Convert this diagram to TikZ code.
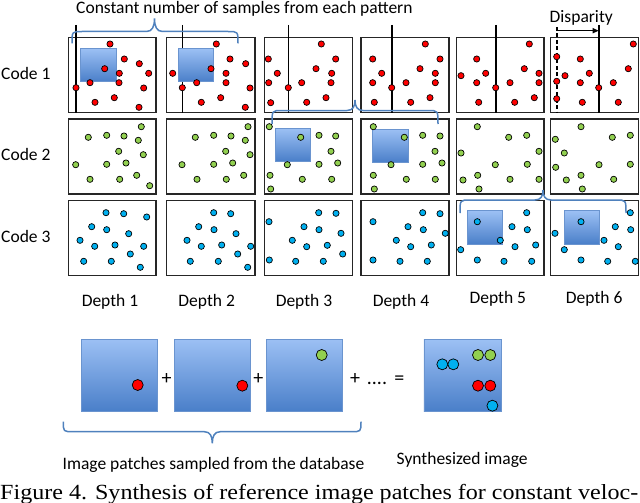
\documentclass[tikz,border=0pt]{standalone}
\usepackage{fontspec}
\usepackage{graphicx}
\setmainfont{Carlito}
\newfontfamily\capfont{Liberation Serif}
\usetikzlibrary{arrows.meta}
\definecolor{rdot}{HTML}{FF0000}
\definecolor{gdot}{HTML}{92D050}
\definecolor{cdot}{HTML}{00B0F0}
\definecolor{bracec}{HTML}{4F81BD}
\definecolor{ptop}{HTML}{9CC0F4}
\definecolor{pbot}{HTML}{4A7FC9}
\definecolor{pedge}{HTML}{6A94CF}
\newcommand\mybrace[6]{%
  \draw[bracestyle] (#1,#4) .. controls (#1,#5) and (#1,#5) .. ({#1+10},#5)
    -- ({#3-8},#5) .. controls ({#3-2},#5) and (#3,{#5+(#6-#5)*0.4}) .. (#3,#6)
    .. controls (#3,{#5+(#6-#5)*0.4}) and ({#3+2},#5) .. ({#3+8},#5)
    -- ({#2-10},#5) .. controls (#2,#5) and (#2,#5) .. (#2,#4);}
\begin{document}
\begin{tikzpicture}[x=1pt,y=-1pt,
  panel/.style={draw=black!85,line width=1.2pt},
  patch/.style={top color=ptop,bottom color=pbot,draw=pedge,line width=0.6pt},
  rd/.style={fill=rdot,draw=black,line width=0.7pt},
  gd/.style={fill=gdot,draw=black,line width=0.7pt},
  cd/.style={fill=cdot,draw=black,line width=0.7pt},
  lbl/.style={font=\fontsize{17.5}{20}\selectfont,inner sep=0pt},
  sym/.style={font=\fontsize{20}{24}\selectfont,inner sep=0pt,anchor=base},
  bracestyle/.style={draw=bracec,line width=1.5pt},
  vline/.style={draw=black,line width=1.6pt}]
\useasboundingbox (0,0) rectangle (640,503);
% panels
\foreach \xl/\xr in {68.3/156,166.7/255,264.3/352.3,361/449,456.3/544,550.7/638.3}{
  \draw[panel] (\xl,37.3) rectangle (\xr,112.7);
  \draw[panel] (\xl,119) rectangle (\xr,194);
  \draw[panel] (\xl,200.7) rectangle (\xr,275.7);
}
% vertical lines row 1
\foreach \x in {76,182.3,288.3,391.7,495.7,598.7}{
  \draw[vline] (\x,25) -- (\x,112.7);
}
\draw[vline,dash pattern=on 4pt off 2.5pt] (556.7,27) -- (556.7,112.7);
\coordinate (dA) at (556.7,30.7);
\coordinate (dB) at (598.7,30.7);
\draw[vline,line width=1.4pt,-{Triangle[length=6pt,width=5pt]}] (dA) -- (dB);
% patches in panels
\draw[patch] (80,48.3) rectangle (116,81.7);
\draw[patch] (178.3,48.3) rectangle (213.3,81.7);
\draw[patch] (275,128.3) rectangle (310,161);
\draw[patch] (372.7,129) rectangle (408.3,162.3);
\draw[patch] (467.7,210.7) rectangle (502.7,244);
\draw[patch] (564.3,210.7) rectangle (599,244);
% row 1 red dots
\foreach \x/\y in {110/44,124.3/59,139.3/63.7,104.7/68.7,119.3/73.3,148.7/73.3,90/82.7,119/82.7,76/87.7,143.7/88,114.3/97.7,95/102.3,139/107.3,
 216.3/44,230/59,245.7/63.7,211/68.7,226/73.3,172.7/73.3,196.7/82.7,226/82.7,182.3/87.7,250/88,220.7/97.7,201.3/102.3,245.3/107.3,
 321.3/44,268.3/59,335.7/59,316/68.7,277.3/73.3,331.7/73.3,268.7/82.7,301.7/82.7,331/82.7,288.3/87.7,326/97.7,270.7/102.7,306.7/102.3,
 425.3/44,372.7/59,440/59,420/68.7,381.7/73.3,435.3/73.3,372.7/82.7,406/82.7,435.3/82.7,391.7/87.7,430/97.7,374.3/102.3,410.7/102.3,
 529.3/44,476.7/59,524.3/68.7,461/75.7,485.7/73.3,539/73.3,476.7/82.7,510/82.7,539/82.7,495.7/87.7,534.3/97.7,478.7/102.3,514.7/102.3,
 633.3/44,556.7/56.7,580.3/59,628.3/68.7,565/75.7,589.3/73.3,556.7/81.3,580.3/82.7,613.3/82.7,598.7/87.7,556.7/98.7,582.3/102.3,618.3/102.3}
  \filldraw[rd] (\x,\y) circle[radius=3.1];
% row 2 green dots
\foreach \x/\y in {141.3/126.7,88.3/137.3,106.7/135.3,124/136,138.3/140.3,118.7/151.3,143.3/154.7,75.7/164.7,106.7/164.3,126/163,90/179.3,119.7/179.3,136.7/175.3,149.7/185.7,
 248/126.7,195.3/137.3,213.7/135.3,231/136,245.3/140.3,225.7/151.3,250/154.7,182/164.7,213.7/164.3,232.7/163,197/179.3,226.3/179.3,243.7/175.3,
 269.3/126.7,300.7/137.3,319/135.3,335.7/136,331/151.3,287.3/164.7,319/164.3,337.7/163,270/175.3,302.3/179.3,331.7/179.3,270.7/189,
 373.3/126.7,404.3/137.3,422.7/135.3,440/136,435/151.3,391/164.7,422.7/164.3,442/163,373.3/175.3,406.3/179.3,435.3/179.3,374.3/189,
 477.3/126.7,508.7/137.3,526.7/135.3,461/153,539/151.3,495.3/164.7,527.3/164.3,463/180,477.7/175.3,510/179.3,539/179.3,479/189,
 581/126.7,612.3/137.3,630.3/135.3,555.3/139.3,564.3/153,599/164.7,630.3/164.3,555.7/167.3,566.3/180,581/175.3,613.7/179.3,582.3/189}
  \filldraw[gd] (\x,\y) circle[radius=3.1];
% row 3 cyan dots
\foreach \x/\y in {106/212.7,123.7/213.7,146.7/217,91.7/226.7,106.7/229.7,128.7/233.7,80/240.3,94.7/246.3,115/245,143.7/246.3,130.3/254,83.7/261.3,111.3/261.3,140.3/267.3,
 213.7/212.7,230.7/213.7,198.7/226.7,214/229.7,236/233.7,187/240.3,201.3/246.3,221.7/245,250.7/246.3,237.7/254,190.3/261.3,218.3/261.3,247.7/267.3,
 269/221.7,318.7/212.7,336/213.3,304/226.7,319/229.7,341/233.3,292.3/240.3,306.7/246.7,327.3/245.3,342.7/254,269.3/260,295.7/261.3,323.3/261.3,
 373/221.7,422.7/212.7,440/213.7,408/226.7,423.3/229.7,445.3/233.3,396.3/240.3,410.7/246.7,431.3/245,373/260,400/261.3,427.3/261.3,
 477.3/221.7,526.7/212.7,512/226.7,527.3/229.7,500.3/240.3,515/246.7,535.7/245,460.7/249.7,477.3/260,504/261.3,531.7/261.3,
 581/221.7,630.3/212.7,615.3/226.7,630.7/229.7,604/240.3,618.3/246.7,555/233.3,564.3/249.7,581/260,607.7/261.3,635.3/261.3}
  \filldraw[cd] (\x,\y) circle[radius=3.1];
% braces
\mybrace{72}{238}{154.5}{43.3}{31.5}{18.3}
\mybrace{272}{438}{355}{124}{110.5}{100}
\mybrace{460}{626}{543}{213}{200}{190}
\mybrace{63.3}{361}{212.3}{421.7}{431.7}{443.3}
% labels
\node[lbl,anchor=base west] (title) at (76,13.3) {Constant number of samples from each pattern};
\node[lbl,anchor=base west] (disp) at (549.5,22.7) {Disparity};
\node[lbl,anchor=base west] (c1) at (1,79) {Code 1};
\node[lbl,anchor=base west] (c2) at (1,160) {Code 2};
\node[lbl,anchor=base west] (c3) at (1,242.3) {Code 3};
\node[lbl,anchor=base] (d1) at (110,306) {Depth 1};
\node[lbl,anchor=base] (d2) at (206.7,306) {Depth 2};
\node[lbl,anchor=base] (d3) at (304,306) {Depth 3};
\node[lbl,anchor=base] (d4) at (401,306) {Depth 4};
\node[lbl,anchor=base] (d5) at (497.8,303.3) {Depth 5};
\node[lbl,anchor=base] (d6) at (594.2,303.3) {Depth 6};
% bottom row
\draw[patch] (81.7,339) rectangle (157.7,411);
\draw[patch] (174,339) rectangle (250,411);
\draw[patch] (266.7,339) rectangle (342.7,411);
\draw[patch] (423.8,339.5) rectangle (501.3,411);
\filldraw[rd] (137.7,385) circle[radius=5.5];
\filldraw[rd] (242.3,385.7) circle[radius=5.5];
\filldraw[gd] (321.7,355) circle[radius=5.5];
\filldraw[cd] (442.3,364.3) circle[radius=5.5];
\filldraw[cd] (453.3,364.3) circle[radius=5.5];
\filldraw[gd] (478,355) circle[radius=5.5];
\filldraw[gd] (490.3,355) circle[radius=5.5];
\filldraw[rd] (478,385.7) circle[radius=5.5];
\filldraw[rd] (490.3,385.7) circle[radius=5.5];
\filldraw[cd] (492.4,405.7) circle[radius=5.5];
\node[sym] (p1) at (166.7,384) {+};
\node[sym] (p2) at (258.3,384) {+};
\node[sym] (p3) at (355,384) {+};
\node[sym] (dots) at (377,384) {....};
\node[sym] (eq) at (399.3,384) {=};
\node[lbl,anchor=base west] (bl) at (62.5,469) {Image patches sampled from the database};
\node[lbl,anchor=base west] (br) at (396.5,464.3) {Synthesized image};
\node[inner sep=0pt,anchor=base west,font=\capfont\fontsize{21.6}{24}\selectfont] (cap) at (0,499.3) {\resizebox{638pt}{\height}{Figure 4. Synthesis of reference image patches for constant veloc-}};
\end{tikzpicture}
\end{document}
